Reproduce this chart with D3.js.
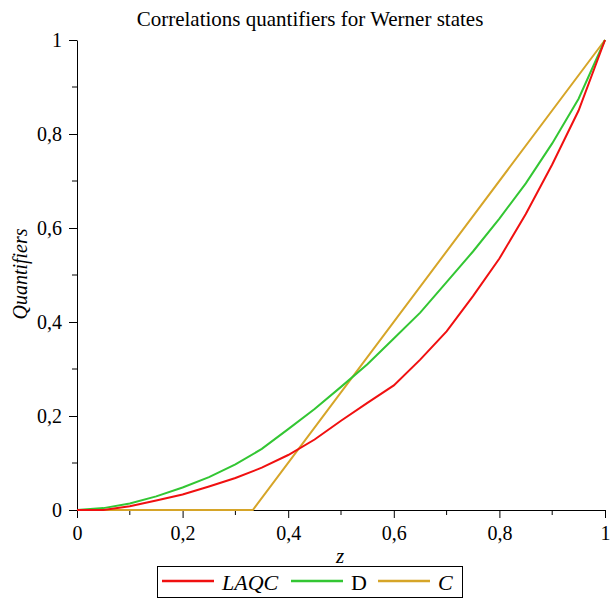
<!DOCTYPE html>
<html>
<head>
<meta charset="utf-8">
<script src="https://cdn.jsdelivr.net/npm/d3@7"></script>
<style>
  body { margin: 0; background: #fff; }
  text { font-family: "Liberation Serif", "DejaVu Serif", serif; fill: #000; }
</style>
</head>
<body>
<div id="content"></div>
<script>
// z values shared by the two smooth curves
const zVals = [0, 0.05, 0.1, 0.15, 0.2, 0.25, 0.3, 0.35, 0.4, 0.45, 0.5,
               0.55, 0.6, 0.65, 0.7, 0.75, 0.8, 0.85, 0.9, 0.95, 1];
const laqc = [0, 0, 0.008, 0.02, 0.033, 0.05, 0.068, 0.09, 0.117, 0.15, 0.19,
              0.228, 0.265, 0.32, 0.38, 0.455, 0.535, 0.63, 0.735, 0.85, 1];
const discord = [0, 0.004, 0.014, 0.029, 0.048, 0.07, 0.097, 0.13, 0.172, 0.215, 0.262,
                 0.31, 0.365, 0.42, 0.485, 0.55, 0.62, 0.695, 0.78, 0.875, 1];
// concurrence: flat then straight line
const concZ = [0, 0.333, 1];
const concV = [0, 0, 1];

const xTicks = [0, 0.2, 0.4, 0.6, 0.8, 1];
const yTicks = [0, 0.2, 0.4, 0.6, 0.8, 1];
const minorTicks = [0.1, 0.3, 0.5, 0.7, 0.9];

const seriesNames = ["LAQC", "D", "C"];
const seriesColors = ["#f01010", "#33c633", "#d6a528"];

const W = 613, H = 600;
const svg = d3.select("#content").append("svg")
    .attr("width", W)
    .attr("height", H);

const x = d3.scaleLinear().domain([0, 1]).range([77, 605]);
const y = d3.scaleLinear().domain([0, 1]).range([510, 40]);
const fmt = d => d === 0 || d === 1 ? String(d) : d.toFixed(1).replace(".", ",");

// title
svg.append("text")
    .attr("x", 310).attr("y", 26)
    .attr("text-anchor", "middle")
    .style("font-size", "21px")
    .text("Correlations quantifiers for Werner states");

// x axis
const xAxis = svg.append("g").attr("transform", "translate(0,510)");
xAxis.call(d3.axisBottom(x).tickValues(xTicks).tickFormat(fmt).tickSize(8).tickSizeOuter(0));
xAxis.append("g").selectAll("line").data(minorTicks).enter().append("line")
    .attr("x1", d => x(d)).attr("x2", d => x(d))
    .attr("y1", 0).attr("y2", 5)
    .attr("stroke", "#000");

// y axis
const yAxis = svg.append("g").attr("transform", "translate(77,0)");
yAxis.call(d3.axisLeft(y).tickValues(yTicks).tickFormat(fmt).tickSize(8).tickSizeOuter(0));
yAxis.append("g").selectAll("line").data(minorTicks).enter().append("line")
    .attr("x1", 0).attr("x2", -5)
    .attr("y1", d => y(d)).attr("y2", d => y(d))
    .attr("stroke", "#000");

svg.selectAll(".tick text")
    .style("font-family", "\"Liberation Serif\", serif")
    .style("font-size", "20px");
xAxis.selectAll(".tick text").attr("dy", 0).attr("y", 30);
yAxis.selectAll(".tick text").attr("x", -15);
svg.selectAll(".domain").attr("stroke", "#000");

// axis labels
svg.append("text")
    .attr("x", 340).attr("y", 563)
    .attr("text-anchor", "middle")
    .style("font-size", "21px")
    .style("font-style", "italic")
    .text("z");
svg.append("text")
    .attr("transform", "translate(27,274) rotate(-90)")
    .attr("text-anchor", "middle")
    .style("font-size", "20px")
    .style("font-style", "italic")
    .text("Quantifiers");

// curves
const line = d3.line().x(d => x(d[0])).y(d => y(d[1]));
const series = [
    zVals.map((z, i) => [z, laqc[i]]),
    zVals.map((z, i) => [z, discord[i]]),
    concZ.map((z, i) => [z, concV[i]])
];
// draw C first, then D, then LAQC
[2, 1, 0].forEach(i => {
    svg.append("path")
        .datum(series[i])
        .attr("d", line)
        .attr("fill", "none")
        .attr("stroke", seriesColors[i])
        .attr("stroke-width", 2);
});

// legend
const legend = svg.append("g");
legend.append("rect")
    .attr("x", 157.5).attr("y", 566.5)
    .attr("width", 305).attr("height", 31)
    .attr("fill", "#fff").attr("stroke", "#000");
const legX = [162, 291, 378];
const legTextX = [222, 351, 438];
seriesNames.forEach((name, i) => {
    legend.append("line")
        .attr("x1", legX[i]).attr("x2", legX[i] + 52)
        .attr("y1", 581).attr("y2", 581)
        .attr("stroke", seriesColors[i])
        .attr("stroke-width", 2.5);
    legend.append("text")
        .attr("x", legTextX[i]).attr("y", 590)
        .style("font-size", "22px")
        .style("font-style", name === "D" ? "normal" : "italic")
        .text(name);
});
</script>
</body>
</html>
